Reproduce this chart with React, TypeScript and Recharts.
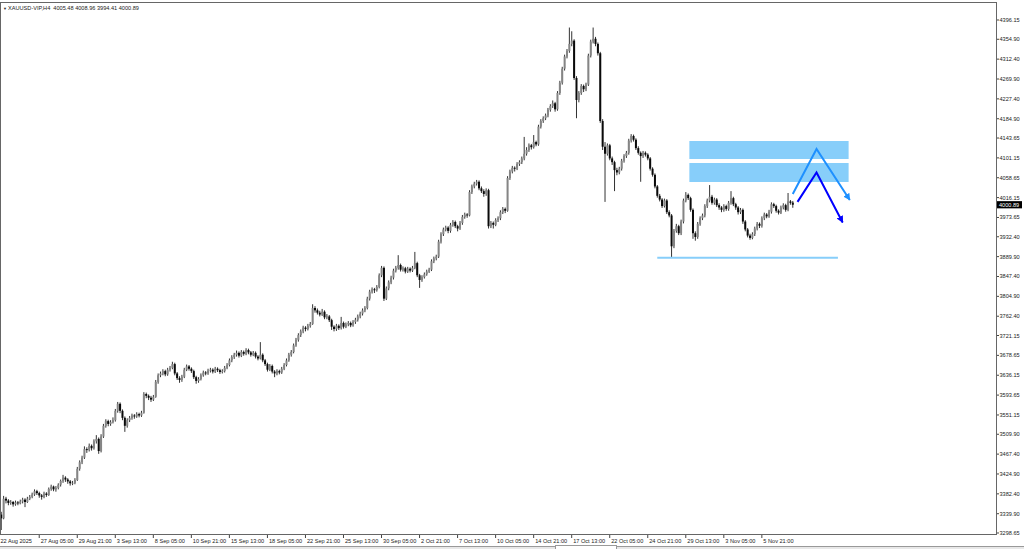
import React from 'react';
import { ComposedChart, Bar, Line, XAxis, YAxis, ReferenceArea, ReferenceLine } from 'recharts';

const symbol = 'XAUUSD-VIP,H4';

const timeLabels = [
  '22 Aug 2025', '27 Aug 05:00', '29 Aug 21:00', '3 Sep 13:00', '8 Sep 05:00', '10 Sep 21:00',
  '15 Sep 13:00', '18 Sep 05:00', '22 Sep 21:00', '25 Sep 13:00', '30 Sep 05:00', '2 Oct 21:00',
  '7 Oct 13:00', '10 Oct 05:00', '14 Oct 21:00', '17 Oct 13:00', '22 Oct 05:00', '24 Oct 21:00',
  '29 Oct 13:00', '3 Nov 05:00', '5 Nov 21:00',
];

const priceTicks = [
  4396.15, 4354.9, 4312.4, 4269.9, 4227.4, 4184.9, 4143.65, 4101.15, 4058.65, 4016.15, 3973.65,
  3932.4, 3889.9, 3847.4, 3804.9, 3762.4, 3721.15, 3678.65, 3636.15, 3593.65, 3551.15, 3509.9,
  3467.4, 3424.9, 3382.4, 3339.9, 3298.65,
];

// H4 candles, [open, high, low, close]
const lateAug = [
  [3338, 3344, 3305, 3330], [3330, 3378, 3328, 3372], [3372, 3376, 3362, 3368], [3368, 3371, 3358, 3363],
  [3363, 3369, 3359, 3365], [3365, 3367, 3355, 3360], [3360, 3368, 3357, 3364], [3364, 3367, 3358, 3362],
  [3362, 3370, 3360, 3366], [3366, 3374, 3362, 3370], [3370, 3373, 3354, 3365], [3365, 3376, 3363, 3372],
  [3372, 3380, 3369, 3376], [3376, 3385, 3373, 3381], [3381, 3392, 3378, 3388], [3388, 3391, 3380, 3384],
  [3384, 3387, 3374, 3379], [3379, 3382, 3370, 3376], [3376, 3387, 3373, 3383], [3383, 3386, 3376, 3380],
  [3380, 3396, 3378, 3393], [3393, 3402, 3389, 3398], [3398, 3400, 3388, 3392], [3392, 3399, 3387, 3395],
  [3395, 3405, 3392, 3402], [3402, 3413, 3398, 3410], [3410, 3423, 3406, 3417], [3417, 3420, 3408, 3413],
  [3413, 3416, 3404, 3409], [3409, 3412, 3400, 3405], [3405, 3410, 3401, 3406], [3406, 3416, 3403, 3412],
];
const earlySep = [
  [3412, 3440, 3410, 3436], [3436, 3454, 3432, 3450], [3450, 3464, 3446, 3460], [3460, 3484, 3457, 3478],
  [3478, 3482, 3470, 3476], [3476, 3490, 3473, 3485], [3485, 3488, 3475, 3480], [3480, 3499, 3477, 3495],
  [3495, 3508, 3490, 3500], [3500, 3503, 3468, 3474], [3474, 3510, 3471, 3505], [3505, 3532, 3502, 3528],
  [3528, 3542, 3524, 3538], [3538, 3541, 3527, 3532], [3532, 3540, 3528, 3536], [3536, 3546, 3533, 3540],
  [3540, 3564, 3537, 3560], [3560, 3579, 3556, 3575], [3575, 3578, 3555, 3560], [3560, 3563, 3540, 3545],
  [3545, 3548, 3515, 3528], [3528, 3544, 3524, 3540], [3540, 3549, 3536, 3545], [3545, 3554, 3541, 3550],
  [3550, 3553, 3543, 3548], [3548, 3557, 3545, 3553], [3553, 3556, 3546, 3550], [3550, 3560, 3547, 3556],
  [3556, 3600, 3554, 3596], [3596, 3599, 3587, 3592],
];
const midSep = [
  [3592, 3595, 3583, 3588], [3588, 3592, 3579, 3584], [3584, 3594, 3581, 3590], [3590, 3626, 3588, 3622],
  [3622, 3640, 3618, 3636], [3636, 3644, 3632, 3640], [3640, 3649, 3636, 3645], [3645, 3648, 3634, 3638],
  [3638, 3652, 3635, 3648], [3648, 3656, 3644, 3652], [3652, 3665, 3649, 3660], [3660, 3663, 3636, 3640],
  [3640, 3643, 3626, 3630], [3630, 3634, 3620, 3626], [3626, 3637, 3622, 3633], [3633, 3652, 3630, 3648],
  [3648, 3659, 3645, 3655], [3655, 3658, 3646, 3650], [3650, 3653, 3641, 3645], [3645, 3648, 3628, 3632],
  [3632, 3635, 3618, 3624], [3624, 3632, 3620, 3628], [3628, 3640, 3625, 3636], [3636, 3646, 3633, 3642],
  [3642, 3645, 3636, 3640], [3640, 3650, 3637, 3646], [3646, 3652, 3642, 3648], [3648, 3651, 3640, 3644],
  [3644, 3654, 3641, 3650], [3650, 3653, 3643, 3647],
];
const lateSep = [
  [3647, 3650, 3639, 3643], [3643, 3649, 3640, 3645], [3645, 3656, 3642, 3652], [3652, 3662, 3649, 3658],
  [3658, 3672, 3655, 3668], [3668, 3679, 3664, 3675], [3675, 3684, 3671, 3680], [3680, 3689, 3676, 3684],
  [3684, 3687, 3674, 3678], [3678, 3690, 3675, 3686], [3686, 3689, 3678, 3682], [3682, 3694, 3679, 3690],
  [3690, 3693, 3681, 3685], [3685, 3688, 3676, 3680], [3680, 3688, 3677, 3684], [3684, 3687, 3672, 3676],
  [3676, 3679, 3668, 3672], [3672, 3707, 3670, 3680], [3680, 3683, 3664, 3668], [3668, 3671, 3656, 3660],
  [3660, 3663, 3644, 3648], [3648, 3660, 3645, 3656], [3656, 3659, 3640, 3644], [3644, 3647, 3632, 3640],
  [3640, 3649, 3636, 3645], [3645, 3648, 3638, 3642], [3642, 3654, 3639, 3650], [3650, 3662, 3647, 3658],
  [3658, 3672, 3655, 3668], [3668, 3684, 3665, 3680],
];
const endSep = [
  [3680, 3690, 3676, 3686], [3686, 3704, 3683, 3700], [3700, 3716, 3697, 3712], [3712, 3726, 3708, 3722],
  [3722, 3734, 3718, 3730], [3730, 3742, 3726, 3738], [3738, 3741, 3730, 3735], [3735, 3746, 3732, 3742],
  [3742, 3750, 3738, 3746], [3746, 3788, 3744, 3780], [3780, 3784, 3770, 3775], [3775, 3779, 3766, 3770],
  [3770, 3774, 3762, 3766], [3766, 3778, 3763, 3772], [3772, 3775, 3756, 3760], [3760, 3767, 3756, 3762],
  [3762, 3765, 3750, 3754], [3754, 3757, 3733, 3740], [3740, 3743, 3730, 3735], [3735, 3746, 3731, 3742],
  [3742, 3745, 3733, 3737], [3737, 3761, 3734, 3748], [3748, 3751, 3736, 3740], [3740, 3749, 3737, 3745],
  [3745, 3752, 3741, 3748], [3748, 3751, 3739, 3743], [3743, 3754, 3740, 3750], [3750, 3759, 3746, 3755],
  [3755, 3766, 3751, 3762], [3762, 3772, 3758, 3768],
];
const earlyOct = [
  [3768, 3779, 3764, 3775], [3775, 3784, 3771, 3780], [3780, 3804, 3777, 3800], [3800, 3819, 3796, 3815],
  [3815, 3824, 3811, 3820], [3820, 3823, 3812, 3818], [3818, 3829, 3815, 3825], [3825, 3854, 3822, 3850],
  [3850, 3870, 3846, 3866], [3866, 3869, 3795, 3800], [3800, 3826, 3797, 3822], [3822, 3839, 3818, 3835],
  [3835, 3849, 3831, 3845], [3845, 3864, 3841, 3860], [3860, 3870, 3856, 3866], [3866, 3893, 3862, 3872],
  [3872, 3875, 3858, 3862], [3862, 3869, 3858, 3865], [3865, 3868, 3854, 3858], [3858, 3868, 3855, 3864],
  [3864, 3867, 3856, 3860], [3860, 3870, 3857, 3866], [3866, 3900, 3863, 3876], [3876, 3879, 3846, 3850],
  [3850, 3853, 3823, 3840], [3840, 3850, 3836, 3846], [3846, 3856, 3843, 3852], [3852, 3862, 3849, 3858],
  [3858, 3866, 3855, 3862], [3862, 3884, 3859, 3880],
];
const octWk2 = [
  [3880, 3890, 3876, 3886], [3886, 3894, 3882, 3890], [3890, 3926, 3887, 3922], [3922, 3942, 3918, 3938],
  [3938, 3952, 3934, 3948], [3948, 3956, 3944, 3952], [3952, 3955, 3940, 3945], [3945, 3962, 3941, 3958],
  [3958, 3968, 3954, 3964], [3964, 3967, 3951, 3955], [3955, 3958, 3944, 3950], [3950, 3966, 3947, 3962],
  [3962, 3979, 3958, 3975], [3975, 3984, 3971, 3980], [3980, 3983, 3973, 3978], [3978, 4032, 3976, 4028],
  [4028, 4044, 4024, 4040], [4040, 4050, 4036, 4046], [4046, 4054, 4042, 4050], [4050, 4053, 4032, 4036],
  [4036, 4040, 4026, 4030], [4030, 4034, 4018, 4024], [4024, 4036, 4020, 4032], [4032, 4035, 3950, 3955],
  [3955, 3966, 3951, 3962], [3962, 3965, 3950, 3958], [3958, 3972, 3955, 3968], [3968, 3976, 3964, 3972],
  [3972, 3989, 3968, 3985], [3985, 3996, 3981, 3992],
];
const octWk3 = [
  [3992, 3995, 3983, 3988], [3988, 4062, 3986, 4058], [4058, 4076, 4054, 4072], [4072, 4084, 4068, 4080],
  [4080, 4083, 4072, 4078], [4078, 4092, 4075, 4088], [4088, 4096, 4084, 4092], [4092, 4104, 4088, 4100],
  [4100, 4146, 4096, 4110], [4110, 4124, 4106, 4118], [4118, 4132, 4114, 4128], [4128, 4131, 4119, 4124],
  [4124, 4150, 4121, 4135], [4135, 4138, 4126, 4130], [4130, 4172, 4127, 4168], [4168, 4184, 4164, 4180],
  [4180, 4190, 4176, 4186], [4186, 4196, 4182, 4192], [4192, 4208, 4188, 4204], [4204, 4216, 4200, 4212],
  [4212, 4224, 4208, 4218], [4218, 4221, 4200, 4205], [4205, 4244, 4202, 4240], [4240, 4266, 4236, 4262],
  [4262, 4296, 4258, 4292], [4292, 4322, 4288, 4318], [4318, 4334, 4314, 4330], [4330, 4380, 4326, 4345],
  [4345, 4372, 4340, 4352], [4352, 4355, 4268, 4272],
];
const octWk4 = [
  [4272, 4276, 4186, 4225], [4225, 4244, 4220, 4240], [4240, 4259, 4236, 4255], [4255, 4258, 4242, 4248],
  [4248, 4262, 4244, 4258], [4258, 4324, 4255, 4320], [4320, 4354, 4316, 4350], [4350, 4380, 4346, 4356],
  [4356, 4360, 4340, 4345], [4345, 4348, 4320, 4325], [4325, 4328, 4176, 4180], [4180, 4184, 4118, 4125],
  [4125, 4135, 4007, 4110], [4110, 4132, 4106, 4128], [4128, 4131, 4096, 4100], [4100, 4104, 4086, 4092],
  [4092, 4095, 4030, 4075], [4075, 4080, 4064, 4070], [4070, 4082, 4066, 4078], [4078, 4099, 4074, 4095],
  [4095, 4109, 4091, 4105], [4105, 4116, 4101, 4112], [4112, 4142, 4108, 4138], [4138, 4152, 4134, 4148],
  [4148, 4151, 4136, 4140], [4140, 4143, 4118, 4122], [4122, 4126, 4108, 4112], [4112, 4115, 4050, 4105],
  [4105, 4116, 4101, 4112], [4112, 4115, 4104, 4108],
];
const lateOct = [
  [4108, 4111, 4096, 4100], [4100, 4103, 4074, 4078], [4078, 4081, 4061, 4065], [4065, 4068, 4036, 4040],
  [4040, 4043, 4016, 4020], [4020, 4024, 4008, 4012], [4012, 4015, 3994, 3998], [3998, 4014, 3995, 4010],
  [4010, 4013, 3981, 3985], [3985, 3989, 3974, 3978], [3978, 3981, 3887, 3912], [3912, 3949, 3908, 3945],
  [3945, 3960, 3941, 3955], [3955, 3958, 3936, 3940], [3940, 3969, 3936, 3965], [3965, 4014, 3961, 4010],
  [4010, 4028, 4006, 4022], [4022, 4025, 4011, 4015], [4015, 4018, 3986, 3990], [3990, 3993, 3928, 3940],
  [3940, 3944, 3924, 3932], [3932, 3964, 3928, 3960], [3960, 3976, 3956, 3972], [3972, 3982, 3968, 3978],
  [3978, 4002, 3974, 3998], [3998, 4014, 3994, 4010], [4010, 4043, 4006, 4018], [4018, 4022, 4001, 4005],
  [4005, 4016, 4001, 4012], [4012, 4015, 3996, 4000],
];
const earlyNov = [
  [4000, 4004, 3990, 3995], [3995, 3998, 3985, 3990], [3990, 4002, 3986, 3998], [3998, 4001, 3988, 3992],
  [3992, 4009, 3988, 4005], [4005, 4030, 4001, 4015], [4015, 4018, 3998, 4002], [4002, 4005, 3990, 3995],
  [3995, 3998, 3980, 3985], [3985, 3994, 3981, 3990], [3990, 3993, 3960, 3965], [3965, 3968, 3944, 3948],
  [3948, 3951, 3931, 3935], [3935, 3939, 3926, 3930], [3930, 3942, 3927, 3938], [3938, 3954, 3934, 3950],
  [3950, 3964, 3946, 3960], [3960, 3963, 3951, 3956], [3956, 3976, 3952, 3972], [3972, 3984, 3968, 3980],
  [3980, 3983, 3972, 3976], [3976, 3990, 3973, 3986], [3986, 4006, 3982, 4002], [4002, 4005, 3994, 3998],
  [3998, 4001, 3984, 3988], [3988, 3991, 3980, 3984], [3984, 3999, 3981, 3995], [3995, 4004, 3991, 4000],
  [4000, 4003, 3986, 3990], [3990, 4026, 3987, 4008], [4008, 4011, 4001, 4005],
  [4005.48, 4008.96, 3994.41, 4000.89],
];

// drawn objects, in bar index / price
const zoneUpper = { x1: 290, x2: 356, y1: 4098.8, y2: 4137.3 };
const zoneLower = { x1: 290, x2: 356, y1: 4049.6, y2: 4090.2 };
const supportLine = { x1: 276, x2: 352, price: 3887.6 };
const lightArrow = [[333, 4024], [343, 4120], [357, 4011]];
const darkArrow = [[335, 4007], [343, 4070], [354, 3963]];

const candles = [
  ...lateAug, ...earlySep, ...midSep, ...lateSep, ...endSep, ...earlyOct,
  ...octWk2, ...octWk3, ...octWk4, ...lateOct, ...earlyNov,
];
const SLOTS = 419;
const last = candles[candles.length - 1];

const data = Array.from({ length: SLOTS }, (_, i) => {
  const row: any = { i };
  const c = candles[i];
  if (c) {
    row.o = c[0]; row.h = c[1]; row.l = c[2]; row.c = c[3];
    row.range = [c[2], c[1]];
  }
  return row;
});
lightArrow.forEach(([i, p]) => { data[i].a = p; });
darkArrow.forEach(([i, p]) => { data[i].b = p; });

const FONT = '"Liberation Sans", Arial, sans-serif';

function Candle(props: any) {
  const { x, y, width, height, payload } = props;
  if (!payload || payload.o == null) return null;
  const top = Math.min(y, y + height);
  const h = Math.abs(height);
  const span = payload.h - payload.l || 1;
  const py = (p: number) => top + ((payload.h - p) / span) * h;
  const cx = x + width / 2;
  const up = payload.c >= payload.o;
  const bt = py(Math.max(payload.o, payload.c));
  const bb = py(Math.min(payload.o, payload.c));
  return (
    <g>
      <line x1={cx} x2={cx} y1={top} y2={top + h} stroke="#333" strokeWidth={1} />
      <rect x={cx - 1} y={bt} width={2} height={Math.max(bb - bt, 0.8)} fill={up ? '#858585' : '#0a0a0a'} />
    </g>
  );
}

function TimeTick({ x, y, payload }: any) {
  const idx = payload.value;
  if (idx % 16 !== 0) return null;
  const label = timeLabels[idx / 16];
  if (!label) return null;
  if (idx === 0) {
    return (
      <text x={0.5} y={y + 7} fontSize={5.6} fontFamily={FONT} fill="#222" dominantBaseline="central">{label}</text>
    );
  }
  return (
    <g>
      <line x1={x} x2={x} y1={y} y2={y + 4} stroke="#444" strokeWidth={1} />
      <text x={x + 1.5} y={y + 7} fontSize={5.6} fontFamily={FONT} fill="#222" dominantBaseline="central">{label}</text>
    </g>
  );
}

function PriceTick({ x, y, payload }: any) {
  const v = payload.value;
  if (v === last[3]) {
    return (
      <g>
        <rect x={x + 1} y={y - 3.6} width={25} height={7.2} fill="#000" />
        <text x={x + 3} y={y} fontSize={5.6} fontFamily={FONT} fill="#fff" dominantBaseline="central">{v.toFixed(2)}</text>
      </g>
    );
  }
  return (
    <g>
      <line x1={x} x2={x + 3} y1={y} y2={y} stroke="#444" strokeWidth={1} />
      <text x={x + 3.5} y={y} fontSize={5.6} fontFamily={FONT} fill="#222" dominantBaseline="central">{v.toFixed(2)}</text>
    </g>
  );
}

export default function App() {
  return (
    <div style={{ position: 'relative', width: 1024, height: 549, background: '#fff', overflow: 'hidden' }}>
      <style>{'body{margin:0}'}</style>
      <svg width={0} height={0} style={{ position: 'absolute' }}>
        <defs>
          <marker id="headA" viewBox="0 0 10 10" refX={9} refY={5} markerWidth={7} markerHeight={7} markerUnits="userSpaceOnUse" orient="auto">
            <path d="M0,0 L10,5 L0,10 z" fill="#1e90ff" />
          </marker>
          <marker id="headB" viewBox="0 0 10 10" refX={9} refY={5} markerWidth={7} markerHeight={7} markerUnits="userSpaceOnUse" orient="auto">
            <path d="M0,0 L10,5 L0,10 z" fill="#0000ff" />
          </marker>
        </defs>
      </svg>
      <ComposedChart width={1024} height={549} data={data} margin={{ top: 3, right: 0, bottom: 0, left: 0 }}>
        <XAxis dataKey="i" type="category" interval={15} tick={<TimeTick />} tickLine={false} axisLine={false}
          height={15} tickSize={0} tickMargin={0} />
        <YAxis orientation="right" type="number" domain={[3296.5, 4432.5]} allowDataOverflow
          ticks={[...priceTicks, last[3]]} interval={0} tick={<PriceTick />} tickLine={false} axisLine={false}
          width={28} tickSize={0} tickMargin={0} />
        <ReferenceArea x1={zoneUpper.x1} x2={zoneUpper.x2} y1={zoneUpper.y1} y2={zoneUpper.y2}
          fill="#87cefa" fillOpacity={1} stroke="none" ifOverflow="visible" />
        <ReferenceArea x1={zoneLower.x1} x2={zoneLower.x2} y1={zoneLower.y1} y2={zoneLower.y2}
          fill="#87cefa" fillOpacity={1} stroke="none" ifOverflow="visible" />
        <ReferenceLine segment={[{ x: supportLine.x1, y: supportLine.price }, { x: supportLine.x2, y: supportLine.price }]}
          stroke="#87cefa" strokeWidth={2} ifOverflow="visible" />
        <Bar dataKey="range" shape={(p: any) => <Candle {...p} />} isAnimationActive={false} />
        <Line dataKey="a" stroke="#1e90ff" strokeWidth={2} dot={false} activeDot={false} connectNulls
          isAnimationActive={false} markerEnd="url(#headA)" />
        <Line dataKey="b" stroke="#0000ff" strokeWidth={2} dot={false} activeDot={false} connectNulls
          isAnimationActive={false} markerEnd="url(#headB)" />
      </ComposedChart>
      <div style={{ position: 'absolute', left: 0, top: 2, width: 997, height: 533, border: '1px solid #666', boxSizing: 'border-box', pointerEvents: 'none' }} />
      <div style={{ position: 'absolute', left: 3, top: 4, fontSize: 5.6, lineHeight: '8px', fontFamily: FONT, color: '#222', whiteSpace: 'pre' }}>
        <span style={{ fontSize: 4 }}>▼ </span>
        {`${symbol}  ${last[0].toFixed(2)} ${last[1].toFixed(2)} ${last[2].toFixed(2)} ${last[3].toFixed(2)}`}
      </div>
      <div style={{ position: 'absolute', left: 0, top: 546, width: 1024, height: 3, background: '#e8e8e8', borderTop: '1px solid #999', boxSizing: 'border-box' }} />
      <div style={{ position: 'absolute', left: 555, top: 545, width: 62, height: 4, background: '#fff', border: '1px solid #999', borderBottom: 'none', boxSizing: 'border-box' }} />
    </div>
  );
}
